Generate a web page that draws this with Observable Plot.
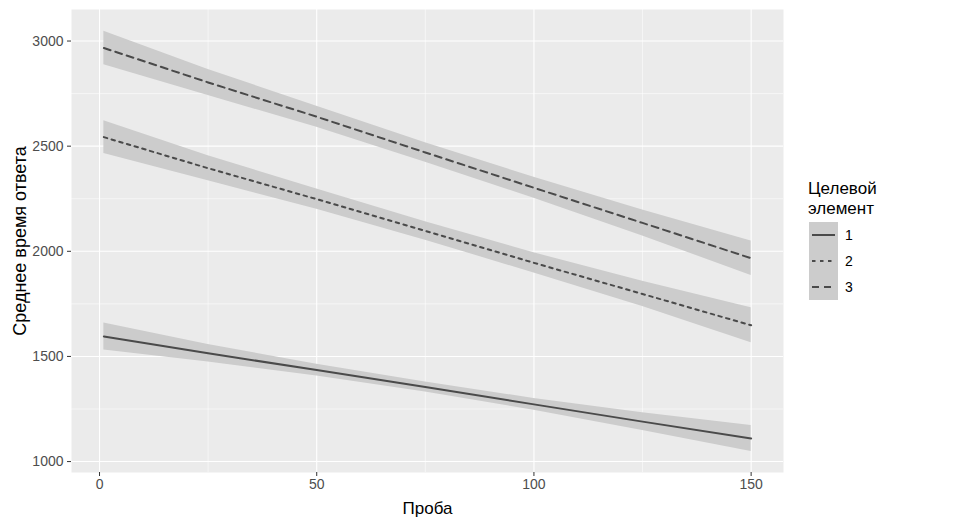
<!DOCTYPE html>
<html><head><meta charset="utf-8">
<script src="https://cdn.jsdelivr.net/npm/d3@7"></script>
<script src="https://cdn.jsdelivr.net/npm/@observablehq/plot@0.6"></script>
<style>
body{margin:0;background:#fff;font-family:"Liberation Sans",Arial,sans-serif;}
#wrap{position:relative;width:974px;height:525px;background:#fff;}
#legend{position:absolute;left:0;top:0;}
</style></head><body><div id="wrap"></div>
<script>
const trials = [1, 25, 50, 75, 100, 125, 150];
const seriesNames = ["1", "2", "3"];
const mean1 = [1595, 1515, 1435, 1355, 1272, 1190, 1110];
const lo1   = [1531, 1473, 1407, 1331, 1244, 1148, 1048];
const hi1   = [1659, 1557, 1463, 1379, 1300, 1232, 1172];
const mean2 = [2543, 2395, 2248, 2097, 1945, 1797, 1648];
const lo2   = [2465, 2335, 2200, 2053, 1897, 1737, 1565];
const hi2   = [2621, 2455, 2296, 2141, 1993, 1857, 1731];
const mean3 = [2967, 2803, 2640, 2470, 2302, 2135, 1967];
const lo3   = [2887, 2741, 2590, 2424, 2252, 2073, 1885];
const hi3   = [3047, 2865, 2690, 2516, 2352, 2197, 2049];
const xTicks = [0, 50, 100, 150];
const xMinor = [25, 75, 125];
const yTicks = [1000, 1500, 2000, 2500, 3000];
const yMinor = [1250, 1750, 2250, 2750];
const legendTitle = ["Целевой", "элемент"];
const xLabel = "Проба";
const yLabel = "Среднее время ответа";

const means = [mean1, mean2, mean3], los = [lo1, lo2, lo3], his = [hi1, hi2, hi3];
const rows = [];
seriesNames.forEach((s, i) => trials.forEach((t, j) => rows.push({series: s, trial: t, mean: means[i][j], lo: los[i][j], hi: his[i][j]})));

const dash = {"1": null, "2": "3.5,4.5", "3": "7,5"};
const lineColor = "#4a4a4a";
const white = {stroke: "white", strokeOpacity: 1};

const chart = Plot.plot({
  width: 790, height: 525,
  marginLeft: 71, marginRight: 7, marginTop: 9, marginBottom: 53,
  style: {fontFamily: "'Liberation Sans', Arial, sans-serif", fontSize: "14px", background: "white", overflow: "visible"},
  x: {domain: [-6.45, 157.45]},
  y: {domain: [948, 3150]},
  marks: [
    Plot.frame({fill: "#EBEBEB", stroke: null}),
    Plot.gridX(xMinor, {...white, strokeWidth: 0.55}),
    Plot.gridY(yMinor, {...white, strokeWidth: 0.55}),
    Plot.gridX(xTicks, {...white, strokeWidth: 1.1}),
    Plot.gridY(yTicks, {...white, strokeWidth: 1.1}),
    Plot.areaY(rows, {x: "trial", y1: "lo", y2: "hi", z: "series", fill: "#CCCCCC", fillOpacity: 1}),
    ...seriesNames.map(s => Plot.line(rows.filter(d => d.series === s), {x: "trial", y: "mean", stroke: lineColor, strokeWidth: 2, strokeDasharray: dash[s]})),
    Plot.axisX(xTicks, {tickSize: 4, tickPadding: 3, stroke: "#333333", fill: "#4D4D4D", fontSize: 14, label: null, tickFormat: d => String(d)}),
    Plot.axisY(yTicks, {tickSize: 4, tickPadding: 4, stroke: "#333333", fill: "#4D4D4D", fontSize: 14, label: null, tickFormat: d => String(d)}),
    Plot.text([xLabel], {text: d => d, frameAnchor: "bottom", dy: 36, fontSize: 17, fill: "black", lineAnchor: "middle", textAnchor: "middle"}),
    Plot.text([yLabel], {text: d => d, frameAnchor: "left", dx: -51, rotate: -90, fontSize: 18, fill: "black", lineAnchor: "middle", textAnchor: "middle"})
  ]
});
const wrap = document.getElementById("wrap");
wrap.appendChild(chart);

// legend
const lg = d3.select(wrap).append("svg").attr("id", "legend").attr("width", 974).attr("height", 525)
  .style("font-family", "'Liberation Sans', Arial, sans-serif");
lg.selectAll("text.title").data(legendTitle).join("text").attr("class", "title")
  .attr("x", 808).attr("y", (d, i) => 194 + i * 20).attr("font-size", 17).attr("fill", "black").text(d => d);
const keyX = 809, keyY = 222, keyW = 29, keyH = 26;
seriesNames.forEach((s, i) => {
  const y0 = keyY + i * keyH;
  lg.append("rect").attr("x", keyX).attr("y", y0).attr("width", keyW).attr("height", keyH).attr("fill", "#CCCCCC");
  lg.append("line").attr("x1", keyX + 3).attr("x2", keyX + keyW - 3).attr("y1", y0 + keyH / 2).attr("y2", y0 + keyH / 2)
    .attr("stroke", lineColor).attr("stroke-width", 2).attr("stroke-dasharray", dash[s]);
  lg.append("text").attr("x", keyX + keyW + 7).attr("y", y0 + keyH / 2).attr("dy", "0.35em").attr("font-size", 14).attr("fill", "black").text(s);
});
</script></body></html>
